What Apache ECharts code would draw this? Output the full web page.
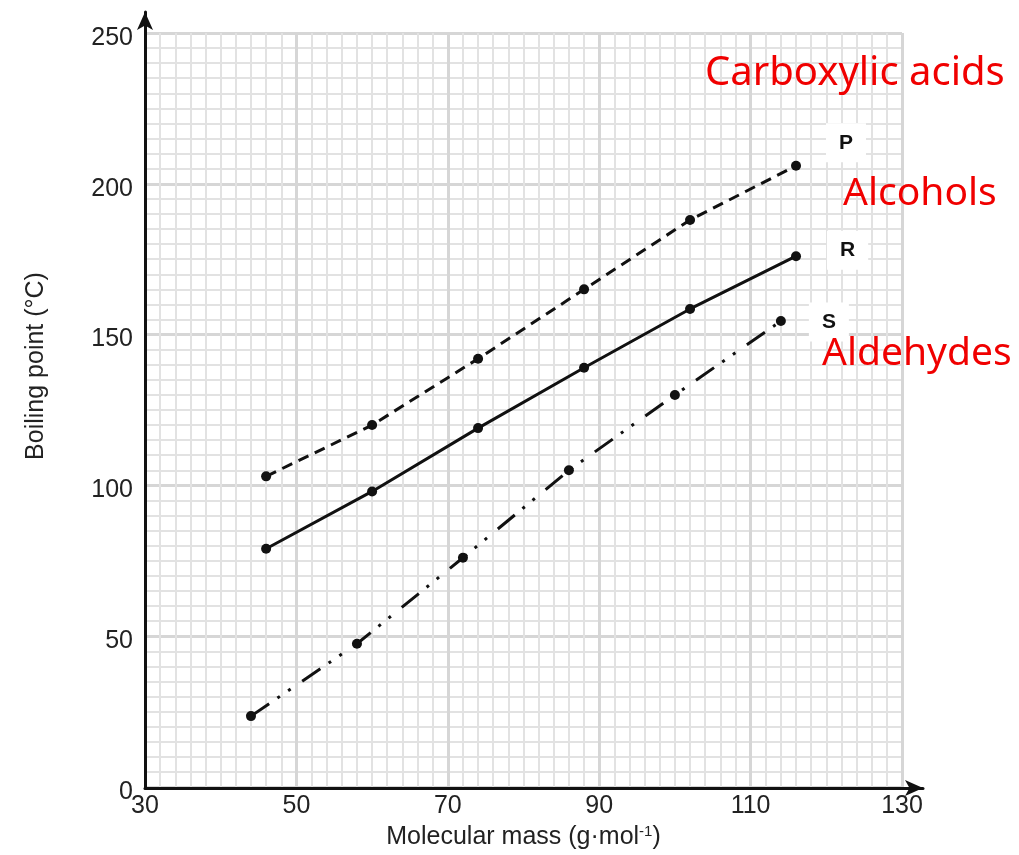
<!DOCTYPE html>
<html>
<head>
<meta charset="utf-8">
<script src="https://cdn.jsdelivr.net/npm/echarts@6/dist/echarts.min.js"></script>
<style>
  html, body { margin: 0; padding: 0; background: #fff; }
  #chart { width: 1019px; height: 855px; }
</style>
</head>
<body>
<div id="chart"></div>
<script>
// molecular mass (g/mol) and boiling point (°C)
const massP = [46, 60, 74, 88, 102, 116];
const bpP = [103, 120, 142, 165, 188, 206];
const massR = [46, 60, 74, 88, 102, 116];
const bpR = [79, 98, 119, 139, 158.5, 176];
const massS = [44, 58, 72, 86, 100, 114];
const bpS = [23.5, 47.5, 76, 105, 130, 154.5];

const seriesNames = ['P', 'R', 'S'];
const groupNames = ['Carboxylic acids', 'Alcohols', 'Aldehydes'];
const xTicks = [30, 50, 70, 90, 110, 130];
const yTicks = [0, 50, 100, 150, 200, 250];

const font = '"Liberation Sans", Arial, sans-serif';
const ink = '#111';

function pairs(xs, ys) {
  return xs.map((x, i) => [x, ys[i]]);
}

const chart = echarts.init(document.getElementById('chart'));

const lineSeries = (name, data, dash, endOffset) => ({
  name: name,
  type: 'line',
  xAxisIndex: 0,
  yAxisIndex: 0,
  data: data,
  symbol: 'circle',
  symbolSize: 10,
  itemStyle: { color: ink },
  lineStyle: { color: ink, width: 3, type: dash },
  endLabel: {
    show: true,
    formatter: name,
    offset: endOffset,
    fontFamily: font,
    fontWeight: 'bold',
    fontSize: 21,
    color: ink,
    backgroundColor: '#fff',
    padding: [9, 13]
  },
  z: 5
});

const option = {
  animation: false,
  backgroundColor: '#fff',
  grid: [
    { left: 145, top: 33, right: 117, bottom: 67 },
    { left: 145, top: 12, right: 96, bottom: 67 }
  ],
  xAxis: [
    {
      type: 'value',
      gridIndex: 0,
      min: xTicks[0],
      max: xTicks[xTicks.length - 1],
      interval: 20,
      name: '{a|Molecular mass (g·mol}{s|-1}{a|)}',
      nameLocation: 'middle',
      nameGap: 37,
      nameTextStyle: {
        rich: {
          a: { fontFamily: font, fontSize: 25, color: '#222' },
          s: { fontFamily: font, fontSize: 15, color: '#222', padding: [0, 0, 12, 0] }
        }
      },
      axisLine: { show: false },
      axisTick: { show: false },
      axisLabel: { fontFamily: font, fontSize: 25, color: '#222', margin: 7 },
      splitLine: { show: true, lineStyle: { color: '#d6d6d6', width: 3 } },
      minorTick: { show: false, splitNumber: 10 },
      minorSplitLine: { show: true, lineStyle: { color: '#e2e2e2', width: 2 } }
    },
    {
      type: 'value',
      gridIndex: 1,
      min: 0,
      max: 1,
      axisLine: {
        show: true,
        onZero: false,
        symbol: ['none', 'arrow'],
        symbolSize: [12, 18],
        lineStyle: { color: ink, width: 3 }
      },
      axisTick: { show: false },
      axisLabel: { show: false },
      splitLine: { show: false }
    }
  ],
  yAxis: [
    {
      type: 'value',
      gridIndex: 0,
      min: yTicks[0],
      max: yTicks[yTicks.length - 1],
      interval: 50,
      axisLine: { show: false },
      axisTick: { show: false },
      axisLabel: {
        margin: 12,
        formatter: '{v|{value}}',
        rich: {
          v: { fontFamily: font, fontSize: 25, color: '#222', padding: [10, 0, 0, 0] }
        }
      },
      splitLine: { show: true, lineStyle: { color: '#d6d6d6', width: 3 } },
      minorTick: { show: false, splitNumber: 10 },
      minorSplitLine: { show: true, lineStyle: { color: '#e2e2e2', width: 2 } }
    },
    {
      type: 'value',
      gridIndex: 1,
      min: 0,
      max: 1,
      axisLine: {
        show: true,
        onZero: false,
        symbol: ['none', 'arrow'],
        symbolSize: [12, 18],
        lineStyle: { color: ink, width: 3 }
      },
      axisTick: { show: false },
      axisLabel: { show: false },
      splitLine: { show: false }
    }
  ],
  series: [
    lineSeries(seriesNames[0], pairs(massP, bpP), [11, 7], [22, -23]),
    lineSeries(seriesNames[1], pairs(massR, bpR), 'solid', [23, -6]),
    lineSeries(seriesNames[2], pairs(massS, bpS), [22, 10, 3, 10, 3, 14], [20, 1])
  ],
  graphic: [
    {
      type: 'text',
      x: 36,
      y: 366,
      rotation: Math.PI / 2,
      style: {
        text: 'Boiling point (°C)',
        font: '25px ' + font,
        fill: '#222',
        align: 'center',
        verticalAlign: 'middle'
      }
    },
    {
      type: 'text',
      x: 705,
      y: 74,
      style: { text: groupNames[0], font: '40px "Noto Sans"', fill: '#f00000', verticalAlign: 'middle' },
      z: 10
    },
    {
      type: 'text',
      x: 843,
      y: 194,
      style: { text: groupNames[1], font: '39px "Noto Sans"', fill: '#f00000', verticalAlign: 'middle' },
      z: 10
    },
    {
      type: 'text',
      x: 822,
      y: 354,
      style: { text: groupNames[2], font: '39px "Noto Sans"', fill: '#f00000', verticalAlign: 'middle' },
      z: 10
    }
  ]
};

chart.setOption(option);
</script>
</body>
</html>
